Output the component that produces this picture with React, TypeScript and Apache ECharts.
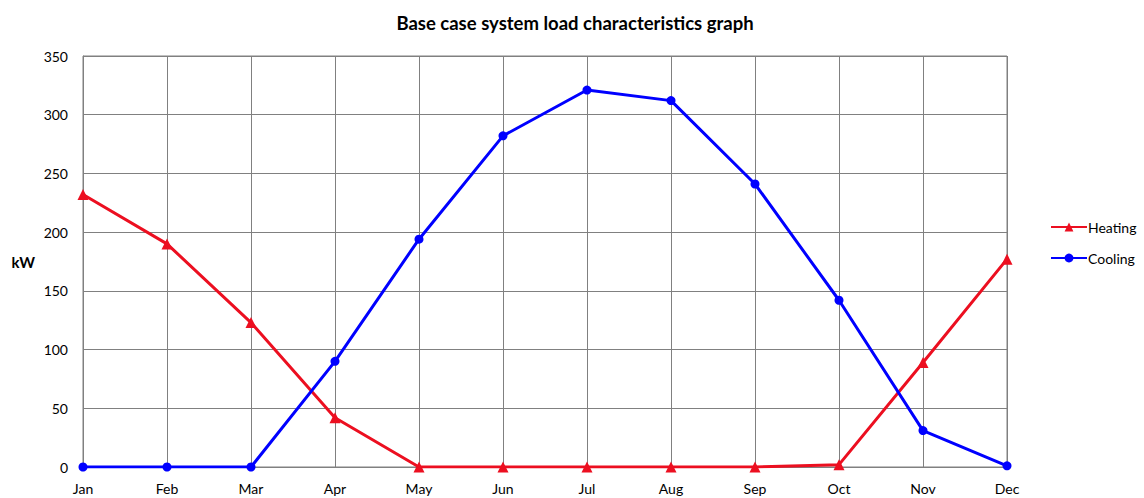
import React, { useEffect, useRef } from "react";
import * as echarts from "echarts";

const months = ["Jan", "Feb", "Mar", "Apr", "May", "Jun", "Jul", "Aug", "Sep", "Oct", "Nov", "Dec"];
const heating = [232, 190, 123, 42, 0, 0, 0, 0, 0, 2, 89, 177];
const cooling = [0, 0, 0, 90, 194, 282, 321, 312, 241, 142, 31, 1];

const FONT = "Lato, 'Open Sans', sans-serif";

export default function App() {
  const ref = useRef<HTMLDivElement>(null);

  useEffect(() => {
    if (!ref.current) return;
    const chart = echarts.init(ref.current, null, { renderer: "svg" });
    chart.setOption({
      animation: false,
      backgroundColor: "#ffffff",
      textStyle: { fontFamily: FONT },
      title: {
        text: "Base case system load characteristics graph",
        left: 570,
        top: 8,
        textAlign: "center",
        textStyle: { fontFamily: FONT, fontSize: 18.5, fontWeight: "bold", color: "#000" },
      },
      legend: {
        orient: "vertical",
        left: 1045,
        top: 215,
        itemGap: 17,
        itemWidth: 36,
        itemHeight: 11,
        textStyle: { fontFamily: FONT, fontSize: 14, color: "#000", padding: [0, 0, 0, -4] },
        data: ["Heating", "Cooling"],
      },
      grid: {
        left: 83,
        right: 137,
        top: 56,
        bottom: 31,
        show: true,
        borderColor: "#808080",
        borderWidth: 1,
      },
      xAxis: {
        type: "category",
        data: months,
        boundaryGap: false,
        axisLine: { lineStyle: { color: "#808080" } },
        axisTick: { show: false },
        axisLabel: { color: "#000", fontSize: 14, fontFamily: FONT, margin: 14 },
        splitLine: { show: true, lineStyle: { color: "#808080", width: 1 } },
      },
      yAxis: {
        type: "value",
        min: 0,
        max: 350,
        interval: 50,
        name: "kW",
        nameLocation: "middle",
        nameRotate: 0,
        nameGap: 48,
        nameTextStyle: { fontFamily: FONT, fontSize: 15, fontWeight: "bold", color: "#000" },
        axisLine: { show: true, lineStyle: { color: "#808080" } },
        axisTick: { show: false },
        axisLabel: { color: "#000", fontSize: 14, fontFamily: FONT, margin: 15 },
        splitLine: { show: true, lineStyle: { color: "#808080", width: 1 } },
      },
      series: [
        {
          name: "Heating",
          type: "line",
          data: heating,
          symbol: "triangle",
          symbolSize: 11,
          lineStyle: { color: "#ec0f20", width: 3 },
          itemStyle: { color: "#ec0f20" },
        },
        {
          name: "Cooling",
          type: "line",
          data: cooling,
          symbol: "circle",
          symbolSize: 9,
          lineStyle: { color: "#0000ff", width: 3 },
          itemStyle: { color: "#0000ff" },
        },
      ],
    });
    return () => chart.dispose();
  }, []);

  return (
    <div
      ref={ref}
      style={{ position: "fixed", left: 0, top: 0, width: 1144, height: 498 }}
    />
  );
}
